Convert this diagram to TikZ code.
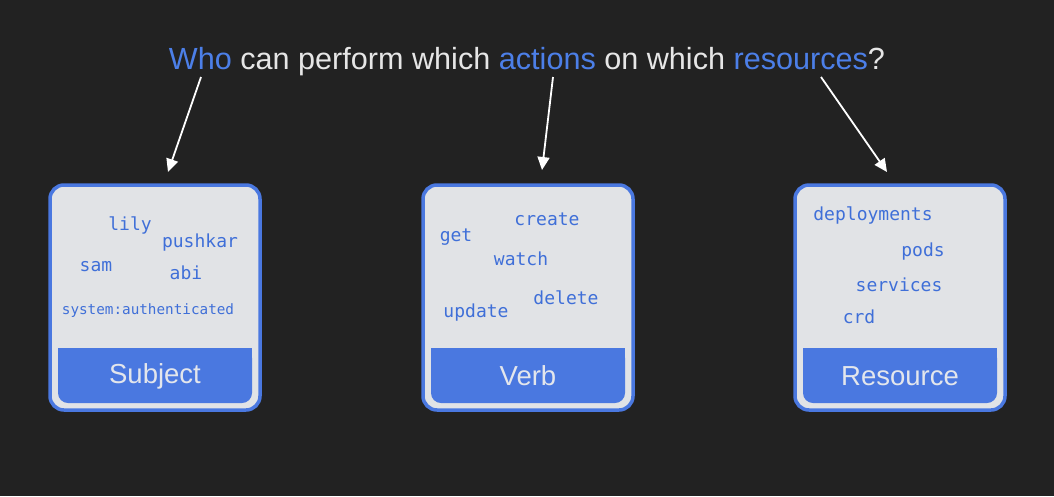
\documentclass[tikz,border=0pt]{standalone}
\usepackage{fontspec}
\usetikzlibrary{arrows.meta}
\setmainfont{Liberation Sans}
\setmonofont{DejaVu Sans Mono}
\definecolor{bg}{HTML}{222222}
\definecolor{kblue}{HTML}{4A78E0}
\definecolor{tblue}{HTML}{4C7FE8}
\definecolor{mblue}{HTML}{3F6FD8}
\definecolor{boxfill}{HTML}{E1E3E6}
\definecolor{titlewhite}{HTML}{E6E6E6}
\definecolor{bandtext}{HTML}{E3E6EC}
\begin{document}
\begin{tikzpicture}[x=1pt,y=-1pt,
  outerbox/.style={draw=kblue,line width=3.5pt,fill=boxfill,rounded corners=14pt},
  bandfill/.style={fill=kblue},
  item/.style={text=mblue,font=\ttfamily\fontsize{18}{20}\selectfont,inner sep=0pt},
  smallitem/.style={text=mblue,font=\ttfamily\fontsize{14.3}{16}\selectfont,inner sep=0pt},
  bandlabel/.style={text=bandtext,font=\fontsize{27.5}{30}\selectfont,inner sep=0pt},
  pointer/.style={draw=white,line width=1.8pt,-{Triangle[length=13pt,width=12pt]}}]
\useasboundingbox (0,0) rectangle (1054,496);
\fill[bg] (0,0) rectangle (1054,496);
% title
\node[text=titlewhite,font=\fontsize{30.6}{36}\selectfont,inner sep=0pt] (title) at (527,62)
  {\textcolor{tblue}{Who} can perform which \textcolor{tblue}{actions} on which \textcolor{tblue}{resources}?};
% boxes
\foreach \x/\n in {50/sbox,423/vbox,795/rbox}{
  \draw[outerbox] (\x,185) rectangle ++(210,225);
  \fill[bandfill,rounded corners=10pt] (\x+8,348) rectangle ++(194,55);
  \fill[bandfill] (\x+8,348) rectangle ++(194,25);
}
\node[bandlabel] (subject) at (155,376) {Subject};
\node[bandlabel] (verb) at (528,376) {Verb};
\node[bandlabel] (resource) at (900,376) {Resource};
% subject items
\node[item] (lily) at (130,225) {lily};
\node[item] (pushkar) at (200,243) {pushkar};
\node[item] (sam) at (96,267) {sam};
\node[item] (abi) at (186,273) {abi};
\node[smallitem] (sysauth) at (148,311) {system:authenticated};
% verb items
\node[item] (create) at (547,219) {create};
\node[item] (get) at (456,237) {get};
\node[item] (watch) at (521,259) {watch};
\node[item] (delete) at (566,298) {delete};
\node[item] (update) at (476,313) {update};
% resource items
\node[item] (deploy) at (873,215) {deployments};
\node[item] (pods) at (923,252) {pods};
\node[item] (services) at (899,285) {services};
\node[item] (crd) at (859,317) {crd};
% arrows
\coordinate (a1s) at (201,77); \coordinate (a1e) at (168,172);
\coordinate (a2s) at (553,77); \coordinate (a2e) at (542,170);
\coordinate (a3s) at (821,77); \coordinate (a3e) at (887,172);
\draw[pointer] (a1s) -- (a1e);
\draw[pointer] (a2s) -- (a2e);
\draw[pointer] (a3s) -- (a3e);
\end{tikzpicture}
\end{document}
